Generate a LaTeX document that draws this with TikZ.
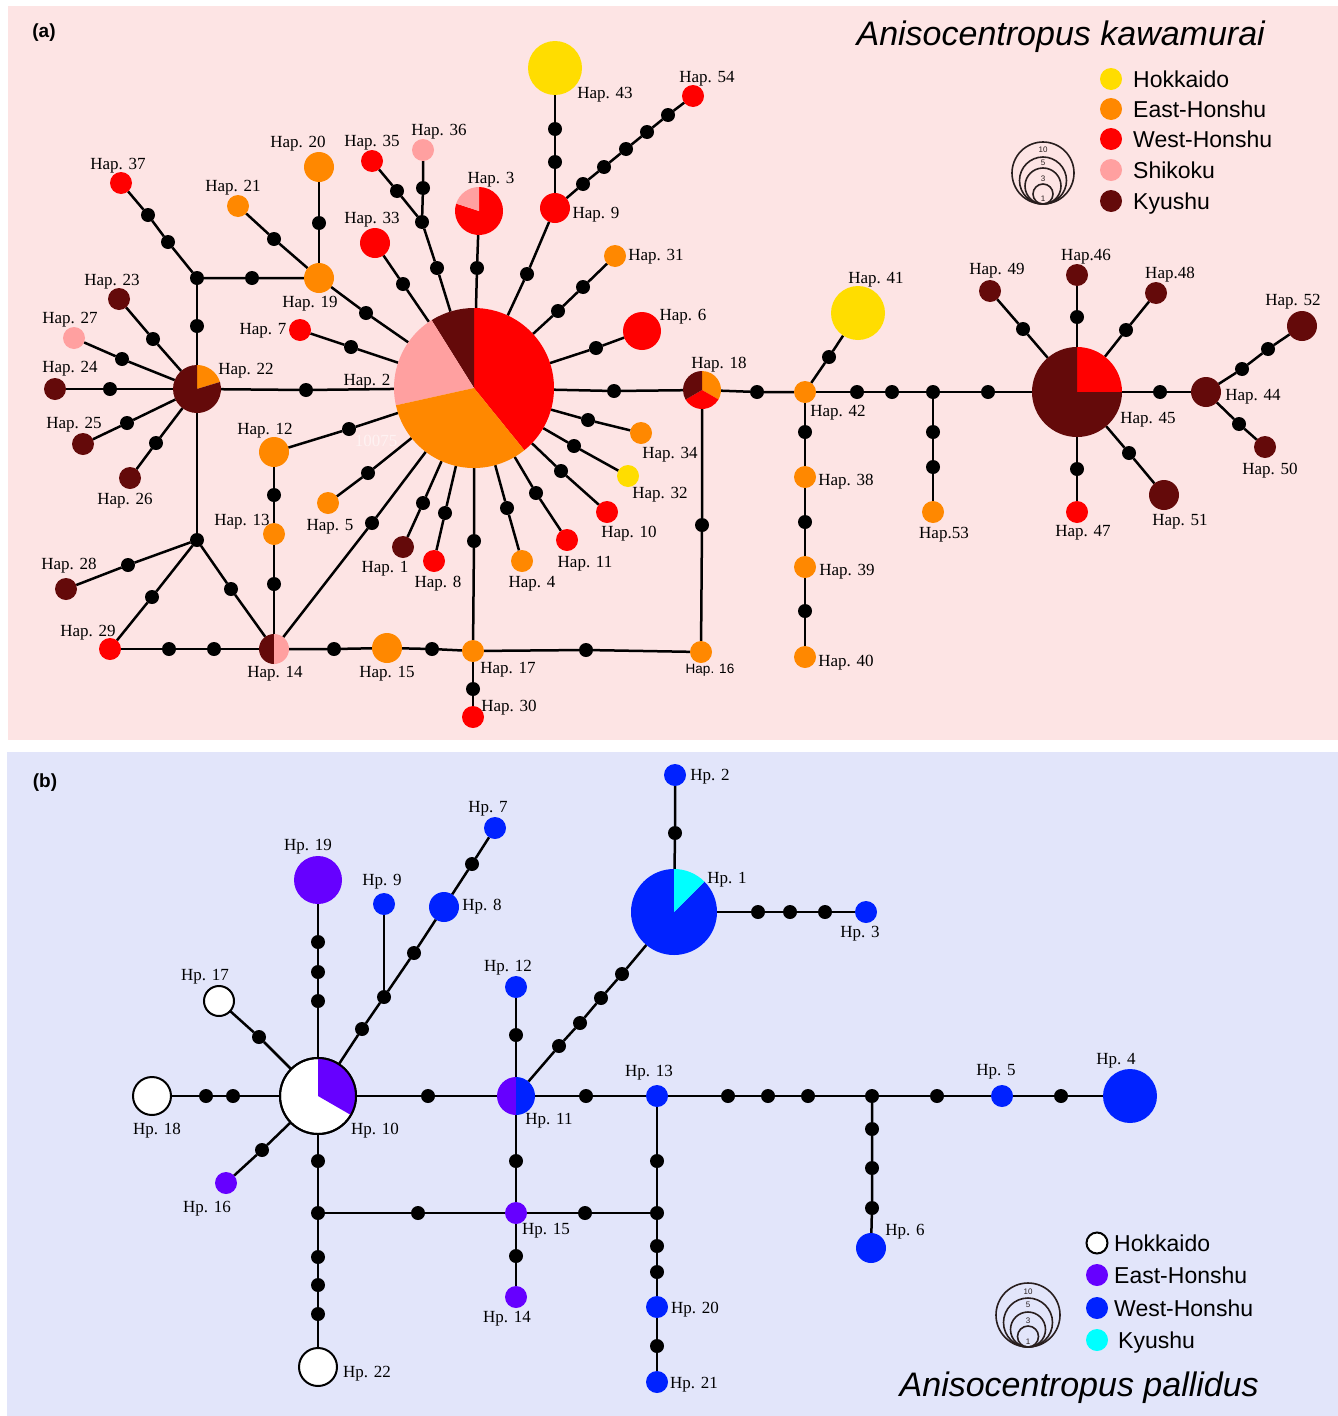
\documentclass[tikz,border=0pt]{standalone}
\usepackage{fontspec}
\setmainfont{Liberation Serif}
\newfontfamily\LSans{Liberation Sans}
\newfontfamily\LSerif{Liberation Serif}
\pgfdeclarelayer{bglayer}
\pgfdeclarelayer{edgelayer}
\pgfsetlayers{bglayer,edgelayer,main}
\definecolor{pinkbg}{RGB}{253,228,228}
\definecolor{lavbg}{RGB}{226,229,250}
\definecolor{cYel}{RGB}{255,221,0}
\definecolor{cOra}{RGB}{255,136,0}
\definecolor{cRed}{RGB}{255,0,0}
\definecolor{cShi}{RGB}{255,160,160}
\definecolor{cKyu}{RGB}{100,10,10}
\definecolor{cPur}{RGB}{102,0,255}
\definecolor{cBlu}{RGB}{0,34,255}
\definecolor{cCya}{RGB}{0,255,255}
\definecolor{szcol}{RGB}{40,30,30}
\newcommand{\pieW}[5]{\fill[#5] (#1.center) -- ++(#2:#4pt) arc[start angle=#2,end angle=#3,radius=#4pt] -- cycle;}
\tikzset{
  hn/.style={circle,inner sep=0pt,outer sep=0pt,draw=none},
  s1/.style={minimum size=22pt},
  s2/.style={minimum size=30pt},
  s3/.style={minimum size=38pt},
  s4/.style={minimum size=48pt},
  s5/.style={minimum size=54pt},
  hwhite/.style={circle,inner sep=0pt,outer sep=0pt,fill=white,draw=black,line width=2pt},
  mut/.style={circle,inner sep=0pt,outer sep=0pt,fill=black,minimum size=14pt},
  lnk/.style={line width=2.5pt,black},
  hl/.style={inner sep=0pt,font=\LSerif\fontsize{17}{17}\selectfont,text height=11.3pt,text depth=0pt},
  hls/.style={inner sep=0pt,font=\LSans\fontsize{13.5}{13.5}\selectfont,text height=9.7pt,text depth=0pt},
  lgt/.style={inner sep=0pt,anchor=west,font=\LSans\fontsize{23}{23}\selectfont,text height=16.5pt,text depth=0pt},
  ttl/.style={inner sep=0pt,anchor=base east,font=\LSans\itshape\fontsize{34}{34}\selectfont},
  pnl/.style={inner sep=0pt,font=\LSans\bfseries\fontsize{19}{19}\selectfont},
  szc/.style={circle,inner sep=0pt,outer sep=0pt,draw=szcol,line width=1.6pt},
  szt/.style={inner sep=0pt,font=\LSans\fontsize{8}{8}\selectfont,text=szcol}
}
\begin{document}
\begin{tikzpicture}[x=1pt,y=-1pt]
\begin{pgfonlayer}{bglayer}
\path[use as bounding box,fill=white] (0,0) rectangle (1338,1416);
\fill[pinkbg] (8,6) rectangle (1338,740);
\fill[lavbg] (7,752) rectangle (1338,1416);
\end{pgfonlayer}

% ================= panel (a) =================
\node[pnl] (pa) at (44,33) {(a)};
\node[ttl] (ta) at (1265,45) {Anisocentropus kawamurai};

% haplotypes
\node[hn,s1,fill=cRed] (h37) at (121,183) {};
\node[hn,s1,fill=cOra] (h21) at (238,206) {};
\node[hn,s2,fill=cOra] (h20) at (319,167) {};
\node[hn,s2,fill=cOra] (h19) at (319,278) {};
\node[hn,s1,fill=cRed] (h35) at (372,161) {};
\node[hn,s1,fill=cShi] (h36) at (423,150) {};
\node[hn,s2,fill=cRed] (h33) at (375,243) {};
\node[hn,s4] (h3) at (479,211) {};
\node[hn,s5,fill=cYel] (h43) at (555,68) {};
\node[hn,s2,fill=cRed] (h9) at (555,208) {};
\node[hn,s1,fill=cRed] (h54) at (693,96) {};
\node[hn,s1,fill=cOra] (h31) at (615,256) {};
\node[hn,s3,fill=cRed] (h6) at (642,331) {};
\node[hn,s1,fill=cRed] (h7) at (300,330) {};
\node[hn,s1,fill=cKyu] (h23) at (119,299) {};
\node[hn,s1,fill=cShi] (h27) at (74,338) {};
\node[hn,s4] (h22) at (197,389) {};
\node[hn,s1,fill=cKyu] (h24) at (55,389) {};
\node[hn,s1,fill=cKyu] (h25) at (83,444) {};
\node[hn,s1,fill=cKyu] (h26) at (130,478) {};
\node[hn,minimum size=160pt] (h2) at (474,388) {};
\node[hn,s2,fill=cOra] (h12) at (274,452) {};
\node[hn,s1,fill=cOra] (h13) at (274,534) {};
\node[hn,s1,fill=cOra] (h5) at (328,503) {};
\node[hn,s1,fill=cKyu] (h1) at (403,547) {};
\node[hn,s1,fill=cRed] (h8) at (434,561) {};
\node[hn,s1,fill=cOra] (h4) at (522,561) {};
\node[hn,s1,fill=cRed] (h11) at (567,540) {};
\node[hn,s1,fill=cRed] (h10) at (607,512) {};
\node[hn,s1,fill=cYel] (h32) at (628,476) {};
\node[hn,s1,fill=cOra] (h34) at (641,433) {};
\node[hn,s3] (h18) at (702,390) {};
\node[hn,s1,fill=cKyu] (h28) at (66,589) {};
\node[hn,s1,fill=cRed] (h29) at (110,649) {};
\node[hn,s2] (h14) at (274,649) {};
\node[hn,s2,fill=cOra] (h15) at (387,648) {};
\node[hn,s1,fill=cOra] (h17) at (473,651) {};
\node[hn,s1,fill=cRed] (h30) at (473,717) {};
\node[hn,s1,fill=cOra] (h16) at (701,652) {};
\node[hn,s1,fill=cOra] (h42) at (805,392) {};
\node[hn,s5,fill=cYel] (h41) at (858,313) {};
\node[hn,s1,fill=cOra] (h38) at (805,477) {};
\node[hn,s1,fill=cOra] (h39) at (805,567) {};
\node[hn,s1,fill=cOra] (h40) at (805,657) {};
\node[hn,s1,fill=cOra] (h53) at (933,512) {};
\node[hn,minimum size=90pt] (h45) at (1077,392) {};
\node[hn,s1,fill=cKyu] (h46) at (1077,275) {};
\node[hn,s1,fill=cKyu] (h49) at (990,291) {};
\node[hn,s1,fill=cKyu] (h48) at (1156,293) {};
\node[hn,s2,fill=cKyu] (h44) at (1206,392) {};
\node[hn,s2,fill=cKyu] (h52) at (1302,326) {};
\node[hn,s1,fill=cKyu] (h50) at (1265,447) {};
\node[hn,s2,fill=cKyu] (h51) at (1164,495) {};
\node[hn,s1,fill=cRed] (h47) at (1077,512) {};

% pies (a)
\pieW{h2}{-51}{90}{80}{cRed}
\pieW{h2}{90}{122}{80}{cKyu}
\pieW{h2}{122}{192.5}{80}{cShi}
\pieW{h2}{192.5}{309}{80}{cOra}
\pieW{h3}{162}{450}{24}{cRed}
\pieW{h3}{90}{162}{24}{cShi}
\pieW{h22}{17}{90}{24}{cOra}
\pieW{h22}{90}{377}{24}{cKyu}
\pieW{h18}{-30}{90}{19}{cOra}
\pieW{h18}{210}{330}{19}{cRed}
\pieW{h18}{90}{210}{19}{cKyu}
\pieW{h14}{90}{270}{15}{cKyu}
\pieW{h14}{-90}{90}{15}{cShi}
\pieW{h45}{0}{90}{45}{cRed}
\pieW{h45}{90}{360}{45}{cKyu}
\node[inner sep=0pt,font=\LSerif\fontsize{17}{17}\selectfont,text=white,opacity=0.55] (wm) at (376,441) {10075};

% mutation dots (a)
\node[mut] (ma1) at (437,268) {};
\node[mut] (ja1) at (422,222) {};
\node[mut] (ma2) at (397,191) {};
\node[mut] (ma3) at (423,188) {};
\node[mut] (ma4) at (403,284) {};
\node[mut] (ma5) at (366,313) {};
\node[mut] (ma6) at (351,347) {};
\node[mut] (ma7) at (306,390) {};
\node[mut] (ma8) at (349,429) {};
\node[mut] (ma9) at (368,473) {};
\node[mut] (ma10) at (372,523) {};
\node[mut] (ma11) at (423,503) {};
\node[mut] (ma12) at (445,513) {};
\node[mut] (ma13) at (474,541) {};
\node[mut] (ma14) at (507,508) {};
\node[mut] (ma15) at (536,493) {};
\node[mut] (ma16) at (561,471) {};
\node[mut] (ma17) at (574,446) {};
\node[mut] (ma18) at (588,420) {};
\node[mut] (ma19) at (614,391) {};
\node[mut] (ma20) at (596,348) {};
\node[mut] (ma21) at (558,311) {};
\node[mut] (ma22) at (583,287) {};
\node[mut] (ma23) at (527,274) {};
\node[mut] (ma24) at (477,268) {};
\node[mut] (ma25) at (555,162) {};
\node[mut] (ma26) at (555,129) {};
\node[mut] (ma27) at (583,184) {};
\node[mut] (ma28) at (604,167) {};
\node[mut] (ma29) at (626,149) {};
\node[mut] (ma30) at (647,132) {};
\node[mut] (ma31) at (668,115) {};
\node[mut] (ma32) at (319,223) {};
\node[mut] (ma33) at (274,239) {};
\node[mut] (ma34) at (252,278) {};
\node[mut] (ja2) at (197,278) {};
\node[mut] (ma35) at (168,242) {};
\node[mut] (ma36) at (148,215) {};
\node[mut] (ma37) at (197,326) {};
\node[mut] (ma38) at (153,339) {};
\node[mut] (ma39) at (122,359) {};
\node[mut] (ma40) at (110,389) {};
\node[mut] (ma41) at (127,423) {};
\node[mut] (ma42) at (156,443) {};
\node[mut] (ja3) at (197,540) {};
\node[mut] (ma43) at (128,565) {};
\node[mut] (ma44) at (152,597) {};
\node[mut] (ma45) at (231,589) {};
\node[mut] (ma46) at (169,649) {};
\node[mut] (ma47) at (214,649) {};
\node[mut] (ma48) at (274,495) {};
\node[mut] (ma49) at (274,584) {};
\node[mut] (ma50) at (334,649) {};
\node[mut] (ma51) at (432,649) {};
\node[mut] (ma52) at (473,689) {};
\node[mut] (ma53) at (586,650) {};
\node[mut] (ma54) at (702,525) {};
\node[mut] (ma55) at (757,392) {};
\node[mut] (ma56) at (829,357) {};
\node[mut] (ma57) at (857,392) {};
\node[mut] (ma58) at (892,392) {};
\node[mut] (ja4) at (933,392) {};
\node[mut] (ma59) at (988,392) {};
\node[mut] (ma60) at (933,432) {};
\node[mut] (ma61) at (933,467) {};
\node[mut] (ma62) at (805,432) {};
\node[mut] (ma63) at (805,522) {};
\node[mut] (ma64) at (805,611) {};
\node[mut] (ma65) at (1077,317) {};
\node[mut] (ma66) at (1023,329) {};
\node[mut] (ma67) at (1126,330) {};
\node[mut] (ma68) at (1160,392) {};
\node[mut] (ma69) at (1242,369) {};
\node[mut] (ma70) at (1268,349) {};
\node[mut] (ma71) at (1239,424) {};
\node[mut] (ma72) at (1129,453) {};
\node[mut] (ma73) at (1077,469) {};

\begin{pgfonlayer}{edgelayer}
\draw[lnk] (h2) -- (ma1) -- (ja1) -- (ma2) -- (h35);
\draw[lnk] (ja1) -- (ma3) -- (h36);
\draw[lnk] (h2) -- (ma4) -- (h33);
\draw[lnk] (h2) -- (ma5) -- (h19);
\draw[lnk] (h2) -- (ma6) -- (h7);
\draw[lnk] (h2) -- (ma7) -- (h22);
\draw[lnk] (h2) -- (ma8) -- (h12);
\draw[lnk] (h2) -- (ma9) -- (h5);
\draw[lnk] (h2) -- (ma10) -- (h14);
\draw[lnk] (h2) -- (ma11) -- (h1);
\draw[lnk] (h2) -- (ma12) -- (h8);
\draw[lnk] (h2) -- (ma13) -- (h17);
\draw[lnk] (h2) -- (ma14) -- (h4);
\draw[lnk] (h2) -- (ma15) -- (h11);
\draw[lnk] (h2) -- (ma16) -- (h10);
\draw[lnk] (h2) -- (ma17) -- (h32);
\draw[lnk] (h2) -- (ma18) -- (h34);
\draw[lnk] (h2) -- (ma19) -- (h18);
\draw[lnk] (h2) -- (ma20) -- (h6);
\draw[lnk] (h2) -- (ma21) -- (ma22) -- (h31);
\draw[lnk] (h2) -- (ma23) -- (h9);
\draw[lnk] (h2) -- (ma24) -- (h3);
\draw[lnk] (h9) -- (ma25) -- (ma26) -- (h43);
\draw[lnk] (h9) -- (ma27) -- (ma28) -- (ma29) -- (ma30) -- (ma31) -- (h54);
\draw[lnk] (h19) -- (ma32) -- (h20);
\draw[lnk] (h19) -- (ma33) -- (h21);
\draw[lnk] (h19) -- (ma34) -- (ja2) -- (ma35) -- (ma36) -- (h37);
\draw[lnk] (ja2) -- (ma37) -- (h22);
\draw[lnk] (h22) -- (ma38) -- (h23);
\draw[lnk] (h22) -- (ma39) -- (h27);
\draw[lnk] (h22) -- (ma40) -- (h24);
\draw[lnk] (h22) -- (ma41) -- (h25);
\draw[lnk] (h22) -- (ma42) -- (h26);
\draw[lnk] (h22) -- (ja3);
\draw[lnk] (ja3) -- (ma43) -- (h28);
\draw[lnk] (ja3) -- (ma44) -- (h29);
\draw[lnk] (ja3) -- (ma45) -- (h14);
\draw[lnk] (h29) -- (ma46) -- (ma47) -- (h14);
\draw[lnk] (h12) -- (ma48) -- (h13) -- (ma49) -- (h14);
\draw[lnk] (h14) -- (ma50) -- (h15) -- (ma51) -- (h17);
\draw[lnk] (h17) -- (ma52) -- (h30);
\draw[lnk] (h17) -- (ma53) -- (h16);
\draw[lnk] (h18) -- (ma54) -- (h16);
\draw[lnk] (h18) -- (ma55) -- (h42);
\draw[lnk] (h42) -- (ma56) -- (h41);
\draw[lnk] (h42) -- (ma57) -- (ma58) -- (ja4) -- (ma59) -- (h45);
\draw[lnk] (ja4) -- (ma60) -- (ma61) -- (h53);
\draw[lnk] (h42) -- (ma62) -- (h38) -- (ma63) -- (h39) -- (ma64) -- (h40);
\draw[lnk] (h45) -- (ma65) -- (h46);
\draw[lnk] (h45) -- (ma66) -- (h49);
\draw[lnk] (h45) -- (ma67) -- (h48);
\draw[lnk] (h45) -- (ma68) -- (h44);
\draw[lnk] (h44) -- (ma69) -- (ma70) -- (h52);
\draw[lnk] (h44) -- (ma71) -- (h50);
\draw[lnk] (h45) -- (ma72) -- (h51);
\draw[lnk] (h45) -- (ma73) -- (h47);
\end{pgfonlayer}

% labels (a)
\node[hl] (l37) at (118,164) {Hap. 37};
\node[hl] (l21) at (233,186) {Hap. 21};
\node[hl] (l20) at (298,142) {Hap. 20};
\node[hl] (l35) at (372,141) {Hap. 35};
\node[hl] (l36) at (439,130) {Hap. 36};
\node[hl] (l3) at (491,178) {Hap. 3};
\node[hl] (l33) at (372,218) {Hap. 33};
\node[hl] (l43) at (605,93) {Hap. 43};
\node[hl] (l54) at (707,77) {Hap. 54};
\node[hl] (l9) at (596,213) {Hap. 9};
\node[hl] (l31) at (656,255) {Hap. 31};
\node[hl] (l6) at (683,315) {Hap. 6};
\node[hl] (l19) at (310,302) {Hap. 19};
\node[hl] (l7) at (263,329) {Hap. 7};
\node[hl] (l23) at (112,280) {Hap. 23};
\node[hl] (l27) at (70,318) {Hap. 27};
\node[hl] (l24) at (70,367) {Hap. 24};
\node[hl] (l22) at (246,369) {Hap. 22};
\node[hl] (l2) at (367,380) {Hap. 2};
\node[hl] (l25) at (74,423) {Hap. 25};
\node[hl] (l26) at (125,499) {Hap. 26};
\node[hl] (l12) at (265,429) {Hap. 12};
\node[hl] (l13) at (242,520) {Hap. 13};
\node[hl] (l5) at (330,525) {Hap. 5};
\node[hl] (l28) at (69,564) {Hap. 28};
\node[hl] (l29) at (88,631) {Hap. 29};
\node[hl] (l14) at (275,672) {Hap. 14};
\node[hl] (l15) at (387,672) {Hap. 15};
\node[hl] (l1) at (385,567) {Hap. 1};
\node[hl] (l8) at (438,582) {Hap. 8};
\node[hl] (l4) at (532,582) {Hap. 4};
\node[hl] (l11) at (585,562) {Hap. 11};
\node[hl] (l10) at (629,532) {Hap. 10};
\node[hl] (l32) at (660,493) {Hap. 32};
\node[hl] (l34) at (670,453) {Hap. 34};
\node[hl] (l17) at (508,668) {Hap. 17};
\node[hl] (l30) at (509,706) {Hap. 30};
\node[hls] (l16) at (710,669) {Hap. 16};
\node[hl] (l18) at (719,363) {Hap. 18};
\node[hl] (l41) at (876,278) {Hap. 41};
\node[hl] (l42) at (838,411) {Hap. 42};
\node[hl] (l38) at (846,480) {Hap. 38};
\node[hl] (l39) at (847,570) {Hap. 39};
\node[hl] (l40) at (846,661) {Hap. 40};
\node[hl] (l53) at (944,533) {Hap.53};
\node[hl] (l49) at (997,269) {Hap. 49};
\node[hl] (l46) at (1086,255) {Hap.46};
\node[hl] (l48) at (1170,273) {Hap.48};
\node[hl] (l52) at (1293,300) {Hap. 52};
\node[hl] (l44) at (1253,395) {Hap. 44};
\node[hl] (l45) at (1148,418) {Hap. 45};
\node[hl] (l50) at (1270,469) {Hap. 50};
\node[hl] (l51) at (1180,520) {Hap. 51};
\node[hl] (l47) at (1083,531) {Hap. 47};

% legend (a)
\node[hn,s1,fill=cYel] (ka1) at (1111,79) {};
\node[hn,s1,fill=cOra] (ka2) at (1111,109) {};
\node[hn,s1,fill=cRed] (ka3) at (1111,139) {};
\node[hn,s1,fill=cShi] (ka4) at (1111,170) {};
\node[hn,s1,fill=cKyu] (ka5) at (1111,201) {};
\node[lgt] (kt1) at (1133,79) {Hokkaido};
\node[lgt] (kt2) at (1133,109) {East-Honshu};
\node[lgt] (kt3) at (1133,139) {West-Honshu};
\node[lgt] (kt4) at (1133,170) {Shikoku};
\node[lgt] (kt5) at (1133,201) {Kyushu};
\node[szc,minimum size=62pt] (sa10) at (1043,173) {};
\node[szc,minimum size=47pt] (sa5) at (1043,180.5) {};
\node[szc,minimum size=36pt] (sa3) at (1043,186) {};
\node[szc,minimum size=20pt] (sa1) at (1043,194) {};
\node[szt] (ta10) at (1043,150) {10};
\node[szt] (ta5) at (1043,163) {5};
\node[szt] (ta3) at (1043,179) {3};
\node[szt] (ta1) at (1043,199) {1};

% ================= panel (b) =================
\node[pnl] (pb) at (45,783) {(b)};
\node[ttl] (tb) at (1259,1396) {Anisocentropus pallidus};

\node[hn,s4,fill=cPur] (p19) at (318,880) {};
\node[hn,s1,fill=cBlu] (p9) at (384,904) {};
\node[hn,s2,fill=cBlu] (p8) at (444,907) {};
\node[hn,s1,fill=cBlu] (p7) at (495,828) {};
\node[hn,s1,fill=cBlu] (p2) at (675,775) {};
\node[hn,minimum size=86pt] (p1) at (674,912) {};
\node[hn,s1,fill=cBlu] (p3) at (866,912) {};
\node[hwhite,s2] (p17) at (219,1001) {};
\node[hwhite,s3] (p18) at (152,1096) {};
\node[hwhite,minimum size=76pt] (p10) at (318,1096) {};
\node[hn,s1,fill=cBlu] (p12) at (516,987) {};
\node[hn,s3] (p11) at (516,1096) {};
\node[hn,s1,fill=cBlu] (p13) at (657,1096) {};
\node[hn,s1,fill=cBlu] (p5) at (1002,1096) {};
\node[hn,s5,fill=cBlu] (p4) at (1130,1096) {};
\node[hn,s2,fill=cBlu] (p6) at (871,1248) {};
\node[hn,s1,fill=cPur] (p16) at (226,1183) {};
\node[hn,s1,fill=cPur] (p15) at (516,1213) {};
\node[hn,s1,fill=cPur] (p14) at (516,1297) {};
\node[hn,s1,fill=cBlu] (p20) at (657,1307) {};
\node[hn,s1,fill=cBlu] (p21) at (657,1382) {};
\node[hwhite,s3] (p22) at (318,1367) {};

\pieW{p1}{90}{405}{43}{cBlu}
\pieW{p1}{45}{90}{43}{cCya}
\pieW{p11}{90}{270}{19}{cPur}
\pieW{p11}{-90}{90}{19}{cBlu}
\pieW{p10}{-30}{90}{38}{cPur}
\draw[line width=2pt] (p10.center) circle[radius=38pt];

% mutation dots (b)
\node[mut] (mb1) at (318,1001) {};
\node[mut] (mb2) at (318,972) {};
\node[mut] (mb3) at (318,942) {};
\node[mut] (mb4) at (362,1029) {};
\node[mut] (jb1) at (384,997) {};
\node[mut] (mb5) at (414,953) {};
\node[mut] (mb6) at (472,864) {};
\node[mut] (mb7) at (259,1037) {};
\node[mut] (mb8) at (233,1096) {};
\node[mut] (mb9) at (206,1096) {};
\node[mut] (mb10) at (262,1150) {};
\node[mut] (mb11) at (318,1161) {};
\node[mut] (jb2) at (318,1213) {};
\node[mut] (mb12) at (318,1257) {};
\node[mut] (mb13) at (318,1285) {};
\node[mut] (mb14) at (318,1314) {};
\node[mut] (mb15) at (428,1096) {};
\node[mut] (mb16) at (516,1035) {};
\node[mut] (mb17) at (559,1046) {};
\node[mut] (mb18) at (580,1023) {};
\node[mut] (mb19) at (601,998) {};
\node[mut] (mb20) at (622,974) {};
\node[mut] (mb21) at (675,833) {};
\node[mut] (mb22) at (758,912) {};
\node[mut] (mb23) at (790,912) {};
\node[mut] (mb24) at (825,912) {};
\node[mut] (mb25) at (586,1096) {};
\node[mut] (mb26) at (728,1096) {};
\node[mut] (mb27) at (768,1096) {};
\node[mut] (mb28) at (808,1096) {};
\node[mut] (jb3) at (872,1096) {};
\node[mut] (mb29) at (937,1096) {};
\node[mut] (mb30) at (1061,1096) {};
\node[mut] (mb31) at (872,1129) {};
\node[mut] (mb32) at (872,1168) {};
\node[mut] (mb33) at (872,1208) {};
\node[mut] (mb34) at (516,1161) {};
\node[mut] (mb35) at (516,1256) {};
\node[mut] (mb36) at (418,1213) {};
\node[mut] (mb37) at (585,1213) {};
\node[mut] (jb4) at (657,1213) {};
\node[mut] (mb38) at (657,1161) {};
\node[mut] (mb39) at (657,1246) {};
\node[mut] (mb40) at (657,1272) {};
\node[mut] (mb41) at (657,1346) {};

\begin{pgfonlayer}{edgelayer}
\draw[lnk] (p10) -- (mb1) -- (mb2) -- (mb3) -- (p19);
\draw[lnk] (p10) -- (mb4) -- (jb1) -- (mb5) -- (p8) -- (mb6) -- (p7);
\draw[lnk] (jb1) -- (p9);
\draw[lnk] (p10) -- (mb7) -- (p17);
\draw[lnk] (p10) -- (mb8) -- (mb9) -- (p18);
\draw[lnk] (p10) -- (mb10) -- (p16);
\draw[lnk] (p10) -- (mb11) -- (jb2) -- (mb12) -- (mb13) -- (mb14) -- (p22);
\draw[lnk] (p10) -- (mb15) -- (p11);
\draw[lnk] (p11) -- (mb16) -- (p12);
\draw[lnk] (p11) -- (mb17) -- (mb18) -- (mb19) -- (mb20) -- (p1);
\draw[lnk] (p1) -- (mb21) -- (p2);
\draw[lnk] (p1) -- (mb22) -- (mb23) -- (mb24) -- (p3);
\draw[lnk] (p11) -- (mb25) -- (p13) -- (mb26) -- (mb27) -- (mb28) -- (jb3) -- (mb29) -- (p5) -- (mb30) -- (p4);
\draw[lnk] (jb3) -- (mb31) -- (mb32) -- (mb33) -- (p6);
\draw[lnk] (p11) -- (mb34) -- (p15) -- (mb35) -- (p14);
\draw[lnk] (jb2) -- (mb36) -- (p15) -- (mb37) -- (jb4);
\draw[lnk] (p13) -- (mb38) -- (jb4) -- (mb39) -- (mb40) -- (p20) -- (mb41) -- (p21);
\end{pgfonlayer}

% labels (b)
\node[hl] (q2) at (710,775) {Hp. 2};
\node[hl] (q7) at (488,807) {Hp. 7};
\node[hl] (q19) at (308,845) {Hp. 19};
\node[hl] (q9) at (382,880) {Hp. 9};
\node[hl] (q8) at (482,905) {Hp. 8};
\node[hl] (q1) at (727,878) {Hp. 1};
\node[hl] (q3) at (860,932) {Hp. 3};
\node[hl] (q17) at (205,975) {Hp. 17};
\node[hl] (q12) at (508,966) {Hp. 12};
\node[hl] (q13) at (649,1071) {Hp. 13};
\node[hl] (q5) at (996,1070) {Hp. 5};
\node[hl] (q4) at (1116,1059) {Hp. 4};
\node[hl] (q18) at (157,1129) {Hp. 18};
\node[hl] (q10) at (375,1129) {Hp. 10};
\node[hl] (q11) at (549,1119) {Hp. 11};
\node[hl] (q16) at (207,1207) {Hp. 16};
\node[hl] (q15) at (546,1229) {Hp. 15};
\node[hl] (q6) at (905,1230) {Hp. 6};
\node[hl] (q14) at (507,1317) {Hp. 14};
\node[hl] (q20) at (695,1308) {Hp. 20};
\node[hl] (q21) at (694,1383) {Hp. 21};
\node[hl] (q22) at (367,1372) {Hp. 22};

% legend (b)
\node[hwhite,minimum size=21pt] (kb1) at (1097,1243) {};
\node[hn,s1,fill=cPur] (kb2) at (1097,1275) {};
\node[hn,s1,fill=cBlu] (kb3) at (1097,1308) {};
\node[hn,s1,fill=cCya] (kb4) at (1097,1340) {};
\node[lgt] (kbt1) at (1114,1243) {Hokkaido};
\node[lgt] (kbt2) at (1114,1275) {East-Honshu};
\node[lgt] (kbt3) at (1114,1308) {West-Honshu};
\node[lgt] (kbt4) at (1118,1340) {Kyushu};
\node[szc,minimum size=64pt] (sb10) at (1028,1315) {};
\node[szc,minimum size=49pt] (sb5) at (1028,1322.5) {};
\node[szc,minimum size=35pt] (sb3) at (1028,1329.5) {};
\node[szc,minimum size=21pt] (sb1) at (1028,1336.5) {};
\node[szt] (tb10) at (1028,1292) {10};
\node[szt] (tb5) at (1028,1305) {5};
\node[szt] (tb3) at (1028,1321) {3};
\node[szt] (tb1) at (1028,1342) {1};
\end{tikzpicture}
\end{document}
